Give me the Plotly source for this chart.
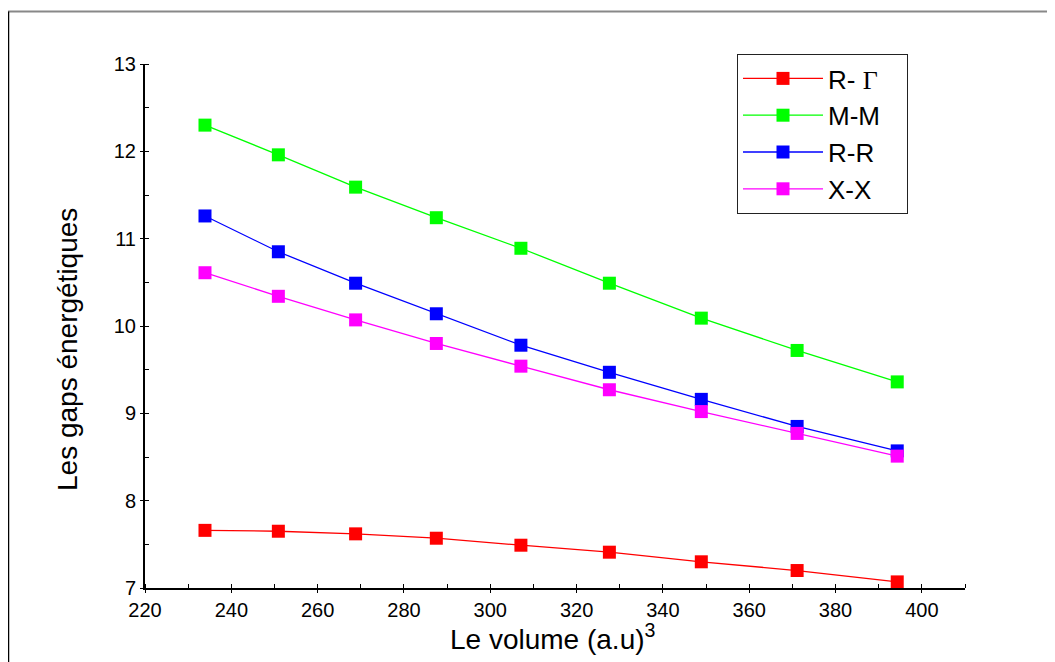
import plotly.graph_objects as go

# ---- data ----
volume = [233.9, 250.9, 268.8, 287.5, 307.1, 327.6, 348.9, 371.1, 394.3]
gap_R_Gamma = [7.66, 7.65, 7.62, 7.57, 7.49, 7.41, 7.30, 7.20, 7.07]
gap_M_M = [12.30, 11.96, 11.59, 11.24, 10.89, 10.49, 10.09, 9.72, 9.36]
gap_R_R = [11.26, 10.85, 10.49, 10.14, 9.78, 9.47, 9.16, 8.85, 8.57]
gap_X_X = [10.61, 10.34, 10.07, 9.80, 9.54, 9.27, 9.02, 8.77, 8.51]

series_labels = ["R- <span style='font-family:Liberation Serif'>Γ</span>", "M-M", "R-R", "X-X"]
series_values = [gap_R_Gamma, gap_M_M, gap_R_R, gap_X_X]
series_colors = ["#FF0000", "#00FF00", "#0000FF", "#FF00FF"]

x_ticks = [220, 240, 260, 280, 300, 320, 340, 360, 380, 400]
y_ticks = [7, 8, 9, 10, 11, 12, 13]

# page is rendered with an 8px body margin
OFF = 8
PAGE_W, PAGE_H = 1055, 662
W, H = PAGE_W - OFF, PAGE_H - OFF
# plot area in page pixels
PX0, PX1, PY0, PY1 = 145, 965, 64, 588
L, R = PX0 - OFF, W - (PX1 - OFF)
T, B = PY0 - OFF, H - (PY1 - OFF)
pw, ph = PX1 - PX0, PY1 - PY0

def px(xp):  # page x pixel -> paper
    return (xp - PX0) / pw

def py(yp):  # page y pixel -> paper
    return (PY1 - yp) / ph

NB = "\u00a0"
fig = go.Figure()
for label, vals, col in zip(series_labels, series_values, series_colors):
    fig.add_trace(go.Scatter(
        x=volume, y=vals, name=label + NB * 3, mode="lines+markers",
        line=dict(color=col, width=1.3),
        marker=dict(symbol="square", size=13, color=col),
    ))

axis_common = dict(
    showline=True, linecolor="black", linewidth=2, mirror=False,
    showgrid=False, zeroline=False,
    ticks="outside", ticklen=3, tickcolor="black", tickwidth=1,
    tickfont=dict(family="Liberation Sans, Arial", size=20, color="black"),
)

fig.update_xaxes(
    range=[220, 410], tickvals=x_ticks, ticktext=[str(v) for v in x_ticks],
    minor=dict(ticks="inside", ticklen=4, dtick=10, tick0=220, tickcolor="black", showgrid=False),
    **axis_common,
)
fig.update_yaxes(
    range=[7, 13], tickvals=y_ticks, ticktext=[str(v) for v in y_ticks],
    minor=dict(ticks="inside", ticklen=4, dtick=0.5, tick0=7, tickcolor="black", showgrid=False),
    **axis_common,
)

fig.add_annotation(
    text="Le volume (a.u)<sup>3</sup>", xref="paper", yref="paper",
    x=px(553), y=py(637), xanchor="center", yanchor="middle", showarrow=False,
    font=dict(family="Liberation Sans, Arial", size=28, color="black"),
)
fig.add_annotation(
    text="Les gaps énergétiques", xref="paper", yref="paper",
    x=px(67), y=py(350), xanchor="center", yanchor="middle", showarrow=False,
    textangle=-90,
    font=dict(family="Liberation Sans, Arial", size=28, color="black"),
)

# outer frame (top and left edges)
fig.add_shape(type="line", xref="paper", yref="paper",
              x0=px(8), x1=px(PAGE_W + 5), y0=py(11.5), y1=py(11.5),
              line=dict(color="#888888", width=2))
fig.add_shape(type="line", xref="paper", yref="paper",
              x0=px(8.5), x1=px(8.5), y0=py(11.5), y1=py(PAGE_H + 5),
              line=dict(color="black", width=1.5))

fig.update_layout(
    width=W, height=H,
    margin=dict(l=L, r=R, t=T, b=B),
    paper_bgcolor="white", plot_bgcolor="white",
    showlegend=True,
    legend=dict(
        x=px(737), y=py(54), xanchor="left", yanchor="top",
        bgcolor="white", bordercolor="#222222", borderwidth=1,
        font=dict(family="Liberation Sans, Arial", size=26, color="black"),
        itemwidth=80,
    ),
)

fig.write_html("out.html")
